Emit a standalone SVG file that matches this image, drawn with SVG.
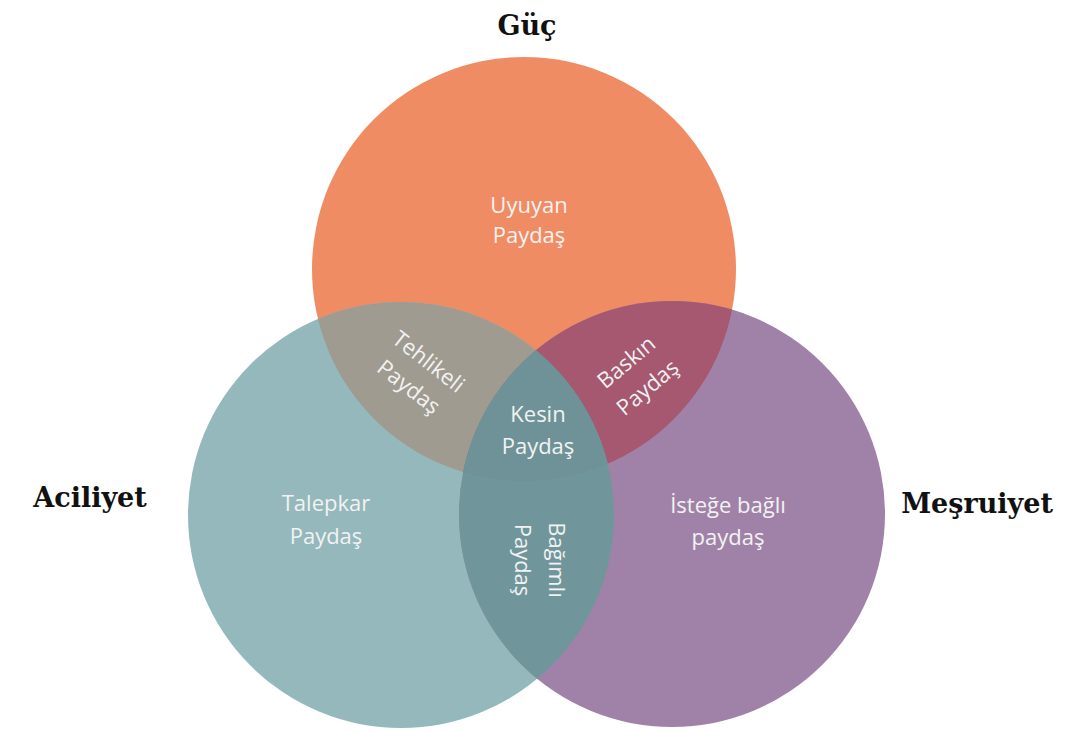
<svg xmlns="http://www.w3.org/2000/svg" width="1084" height="733" viewBox="0 0 1084 733">
<style>
.lbl{font-family:"Open Sans","Liberation Sans",sans-serif;font-size:22px;fill:#f2f2f2;text-anchor:middle}
.ttl{font-family:"DejaVu Serif","Liberation Serif",serif;font-size:27px;font-weight:bold;fill:#111;text-anchor:middle}
</style>
<defs>
<clipPath id="cO"><circle cx="524" cy="269" r="212"/></clipPath>
<clipPath id="cT"><circle cx="401" cy="515" r="213"/></clipPath>
</defs>
<rect width="1084" height="733" fill="#ffffff"/>
<g id="guc">
<circle cx="524" cy="269" r="212" fill="#F08C64"/>
</g>
<g id="aciliyet">
<circle cx="401" cy="515" r="213" fill="#94B8BC"/>
</g>
<g id="mesruiyet">
<circle cx="672" cy="514" r="213" fill="#A082A8"/>
</g>
<g id="tehlikeli">
<circle cx="401" cy="515" r="213" fill="#A09B91" clip-path="url(#cO)"/>
</g>
<g id="baskin">
<circle cx="672" cy="514" r="213" fill="#A55870" clip-path="url(#cO)"/>
</g>
<g id="bagimli">
<circle cx="672" cy="514" r="213" fill="#70969C" clip-path="url(#cT)"/>
</g>
<g id="kesin" clip-path="url(#cO)">
<circle cx="672" cy="514" r="213" fill="#6E9298" clip-path="url(#cT)"/>
</g>
<g id="labels">
<text class="lbl"><tspan x="529" y="213">Uyuyan</tspan><tspan x="529" y="243">Paydaş</tspan></text>
<text class="lbl" transform="translate(419,374) rotate(38)"><tspan x="0" y="-8">Tehlikeli</tspan><tspan x="0" y="24">Paydaş</tspan></text>
<text class="lbl" transform="translate(637,375) rotate(-40)"><tspan x="0" y="-9">Baskın</tspan><tspan x="0" y="24">Paydaş</tspan></text>
<text class="lbl"><tspan x="538" y="422">Kesin</tspan><tspan x="538" y="454">Paydaş</tspan></text>
<text class="lbl"><tspan x="326" y="511">Talepkar</tspan><tspan x="326" y="544">Paydaş</tspan></text>
<text class="lbl" transform="translate(540,560) rotate(90)"><tspan x="0" y="-9">Bağımlı</tspan><tspan x="0" y="25">Paydaş</tspan></text>
<text class="lbl"><tspan x="728" y="513">İsteğe bağlı</tspan><tspan x="728" y="545">paydaş</tspan></text>
</g>
<g id="titles">
<text class="ttl" x="527" y="35">Güç</text>
<text class="ttl" x="90" y="507">Aciliyet</text>
<text class="ttl" x="977" y="513">Meşruiyet</text>
</g>
</svg>
